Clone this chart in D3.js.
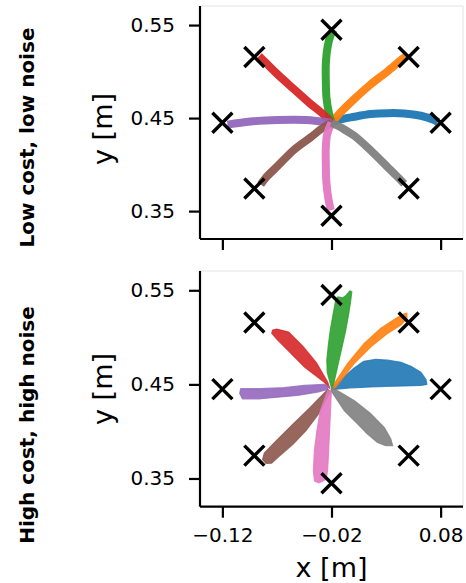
<!DOCTYPE html>
<html>
<head>
<meta charset="utf-8">
<script src="https://cdn.jsdelivr.net/npm/d3@7"></script>
<style>
  html, body { margin: 0; padding: 0; background: #fff; }
  svg { display: block; }
  text { font-family: "DejaVu Sans", sans-serif; fill: #000; }
</style>
</head>
<body>
<svg id="chart" width="466" height="583"></svg>
<script>
// ---------- data ----------
const colors = ["#1f77b4","#ff7f0e","#2ca02c","#d62728","#9467bd","#8c564b","#e377c2","#7f7f7f"];
const xTicks = [-0.12, -0.02, 0.08];
const yTicks = [0.35, 0.45, 0.55];
const rowLabels = ["Low cost, low noise", "High cost, high noise"];
const targetX = [0.08, 0.0507, -0.02, -0.0907, -0.12, -0.0907, -0.02, 0.0507];
const targetY = [0.445, 0.5157, 0.545, 0.5157, 0.445, 0.3743, 0.345, 0.3743];

// low cost, low noise: mean trajectory per target (x, y in m)
const lowTraj0 = [[-0.02,0.445],[-0.0140,0.4479],[0.0007,0.4514],[0.0161,0.4543],[0.0314,0.4553],[0.0466,0.4550],[0.0619,0.4525],[0.0741,0.4479],[0.0775,0.4458]];
const lowTraj1 = [[-0.02,0.445],[-0.0096,0.4586],[0.0007,0.4703],[0.0161,0.4864],[0.0314,0.5003],[0.0466,0.5149],[0.0497,0.5166]];
const lowTraj2 = [[-0.02,0.445],[-0.0222,0.4543],[-0.0246,0.4721],[-0.0252,0.4899],[-0.0252,0.5078],[-0.0237,0.5256],[-0.0206,0.5398],[-0.0176,0.5452]];
const lowTraj3 = [[-0.02,0.445],[-0.0298,0.4564],[-0.0390,0.4650],[-0.0543,0.4810],[-0.0695,0.4971],[-0.0803,0.5096],[-0.0864,0.5166]];
const lowTraj4 = [[-0.02,0.445],[-0.0436,0.4479],[-0.0693,0.4479],[-0.0942,0.4463],[-0.1153,0.4430]];
const lowTraj5 = [[-0.02,0.445],[-0.0294,0.4382],[-0.0390,0.4294],[-0.0543,0.4160],[-0.0695,0.3983],[-0.0803,0.3858],[-0.0849,0.3786]];
const lowTraj6 = [[-0.02,0.445],[-0.0239,0.4329],[-0.0252,0.4187],[-0.0252,0.4008],[-0.0248,0.3826],[-0.0229,0.3634],[-0.0206,0.3509]];
const lowTraj7 = [[-0.02,0.445],[-0.0100,0.4390],[0.0007,0.4311],[0.0161,0.4150],[0.0314,0.3973],[0.0406,0.3866],[0.0466,0.3794]];

// high cost, high noise: outline of the spread of trajectories per target
const highBand0 = [[-0.0197,0.4457],[-0.0069,0.4596],[0.0005,0.4671],[0.0096,0.4746],[0.0206,0.4767],[0.0317,0.4757],[0.0436,0.4735],[0.0528,0.4693],[0.0619,0.4628],[0.0665,0.4553],[0.0674,0.4500],[0.0619,0.4489],[0.0463,0.4484],[0.0298,0.4479],[0.0161,0.4473],[-0.0023,0.4463],[-0.0179,0.4447]];
const highBand1 = [[-0.0197,0.4447],[-0.0176,0.4507],[-0.0053,0.4721],[0.0099,0.4935],[0.0252,0.5096],[0.0406,0.5213],[0.0466,0.5249],[0.0491,0.5259],[0.0491,0.5203],[0.0436,0.5131],[0.0314,0.5042],[0.0161,0.4899],[0.0007,0.4721],[-0.0161,0.4472]];
const highBand2 = [[-0.0197,0.4447],[-0.0239,0.4628],[-0.0243,0.4757],[-0.0229,0.4917],[-0.0211,0.5078],[-0.0183,0.5259],[-0.0161,0.5398],[-0.0142,0.5430],[-0.0096,0.5420],[-0.0069,0.5441],[-0.0032,0.5495],[-0.0014,0.5484],[-0.0023,0.5398],[-0.0041,0.5259],[-0.0069,0.5078],[-0.0106,0.4885],[-0.0142,0.4703],[-0.0179,0.4511]];
const highBand3 = [[-0.0216,0.4457],[-0.0268,0.4525],[-0.0445,0.4682],[-0.0592,0.4853],[-0.0702,0.4981],[-0.0748,0.5045],[-0.0739,0.5078],[-0.0702,0.5088],[-0.0592,0.5056],[-0.0463,0.4906],[-0.0335,0.4725],[-0.0234,0.4521]];
const highBand4 = [[-0.0225,0.4479],[-0.0268,0.4500],[-0.0451,0.4489],[-0.0635,0.4465],[-0.0849,0.4454],[-0.1032,0.4454],[-0.1041,0.4404],[-0.1016,0.4347],[-0.0849,0.4347],[-0.0695,0.4364],[-0.0512,0.4382],[-0.0328,0.4418],[-0.0237,0.4446]];
const highBand5 = [[-0.0234,0.4447],[-0.0400,0.4250],[-0.0560,0.4070],[-0.0712,0.3895],[-0.0815,0.3772],[-0.0832,0.3700],[-0.0800,0.3660],[-0.0750,0.3662],[-0.0680,0.3735],[-0.0556,0.3860],[-0.0436,0.4005],[-0.0318,0.4187],[-0.0212,0.4425]];
const highBand6 = [[-0.0234,0.4436],[-0.0302,0.4222],[-0.0334,0.4008],[-0.0357,0.3794],[-0.0366,0.3580],[-0.0356,0.3473],[-0.0317,0.3452],[-0.0278,0.3473],[-0.0250,0.3495],[-0.0236,0.3580],[-0.0226,0.3794],[-0.0218,0.4008],[-0.0210,0.4190],[-0.0202,0.4414]];
const highBand7 = [[-0.0197,0.4468],[0.0007,0.4329],[0.0161,0.4187],[0.0283,0.4043],[0.0344,0.3919],[0.0360,0.3848],[0.0298,0.3848],[0.0222,0.3883],[0.0130,0.3973],[0.0039,0.4080],[-0.0084,0.4222],[-0.0206,0.4436]];

const lowTrajs = [lowTraj0, lowTraj1, lowTraj2, lowTraj3, lowTraj4, lowTraj5, lowTraj6, lowTraj7];
const highBands = [highBand0, highBand1, highBand2, highBand3, highBand4, highBand5, highBand6, highBand7];

// ---------- layout ----------
const svg = d3.select("#chart");
const panels = [
  { top: 6, bottom: 239, rowY: 137.5, ylabY: 129, showXLabels: false },
  { top: 271, bottom: 506.7, rowY: 425, ylabY: 389, showXLabels: true }
];
const left = 200, right = 463;
const x = d3.scaleLinear().domain([-0.1405, 0.1005]).range([left, right]);
const fmt = d3.format(".2f");

panels.forEach((p, pi) => {
  const y = d3.scaleLinear().domain([0.32, 0.5705]).range([p.bottom, p.top]);
  const g = svg.append("g");

  // light frame top / right
  g.append("path")
    .attr("d", `M${left},${p.top}H${right}V${p.bottom}`)
    .attr("fill", "none").attr("stroke", "#e3e3e3").attr("stroke-width", 1);

  if (pi === 0) {
    const line = d3.line().x(d => x(d[0])).y(d => y(d[1])).curve(d3.curveCatmullRom.alpha(0.5));
    lowTrajs.forEach((t, i) => {
      g.append("path").attr("d", line(t))
        .attr("fill", "none").attr("stroke", colors[i])
        .attr("stroke-width", 8).attr("stroke-linecap", "butt").attr("stroke-linejoin", "round")
        .attr("stroke-opacity", 0.95);
    });
  } else {
    const poly = d3.line().x(d => x(d[0])).y(d => y(d[1])).curve(d3.curveLinearClosed);
    highBands.forEach((b, i) => {
      g.append("path").attr("d", poly(b))
        .attr("fill", colors[i]).attr("fill-opacity", 0.9)
        .attr("stroke", colors[i]).attr("stroke-width", 1.2).attr("stroke-opacity", 0.8)
        .attr("stroke-linejoin", "round");
    });
  }

  // target crosses
  const s = 10;
  targetX.forEach((tx, i) => {
    const cx = x(tx), cy = y(targetY[i]);
    g.append("path")
      .attr("d", `M${cx - s},${cy - s}L${cx + s},${cy + s}M${cx - s},${cy + s}L${cx + s},${cy - s}`)
      .attr("stroke", "#000").attr("stroke-width", 3.4).attr("fill", "none");
  });

  // axes
  const xAxis = d3.axisBottom(x).tickValues(xTicks).tickSize(11).tickPadding(10)
    .tickFormat(p.showXLabels ? fmt : () => "");
  const gx = g.append("g").attr("transform", `translate(0,${p.bottom})`).call(xAxis);
  gx.select(".domain").attr("d", `M${left},0H${right}`).attr("stroke-width", 2.2);
  gx.selectAll(".tick line").attr("stroke-width", 2.2);
  gx.selectAll("text").style("font-size", "20px").style("font-family", "DejaVu Sans");

  const yAxis = d3.axisLeft(y).tickValues(yTicks).tickSize(11).tickPadding(14).tickFormat(fmt);
  const gy = g.append("g").attr("transform", `translate(${left},0)`).call(yAxis);
  gy.select(".domain").attr("d", `M0,${p.top}V${p.bottom}`).attr("stroke-width", 2.2);
  gy.selectAll(".tick line").attr("stroke-width", 2.2);
  gy.selectAll("text").style("font-size", "20px").style("font-family", "DejaVu Sans");

  // y label
  g.append("text")
    .attr("transform", `translate(103,${p.ylabY}) rotate(-90)`)
    .attr("text-anchor", "middle").attr("dy", "0.35em")
    .style("font-size", "27px")
    .text("y [m]");

  // row label
  g.append("text")
    .attr("transform", `translate(27,${p.rowY}) rotate(-90)`)
    .attr("text-anchor", "middle").attr("dy", "0.35em")
    .style("font-size", "20px").style("font-weight", "bold")
    .text(rowLabels[pi]);
});

// x label
svg.append("text")
  .attr("x", 331.5).attr("y", 577)
  .attr("text-anchor", "middle")
  .style("font-size", "27px")
  .text("x [m]");
</script>
</body>
</html>
